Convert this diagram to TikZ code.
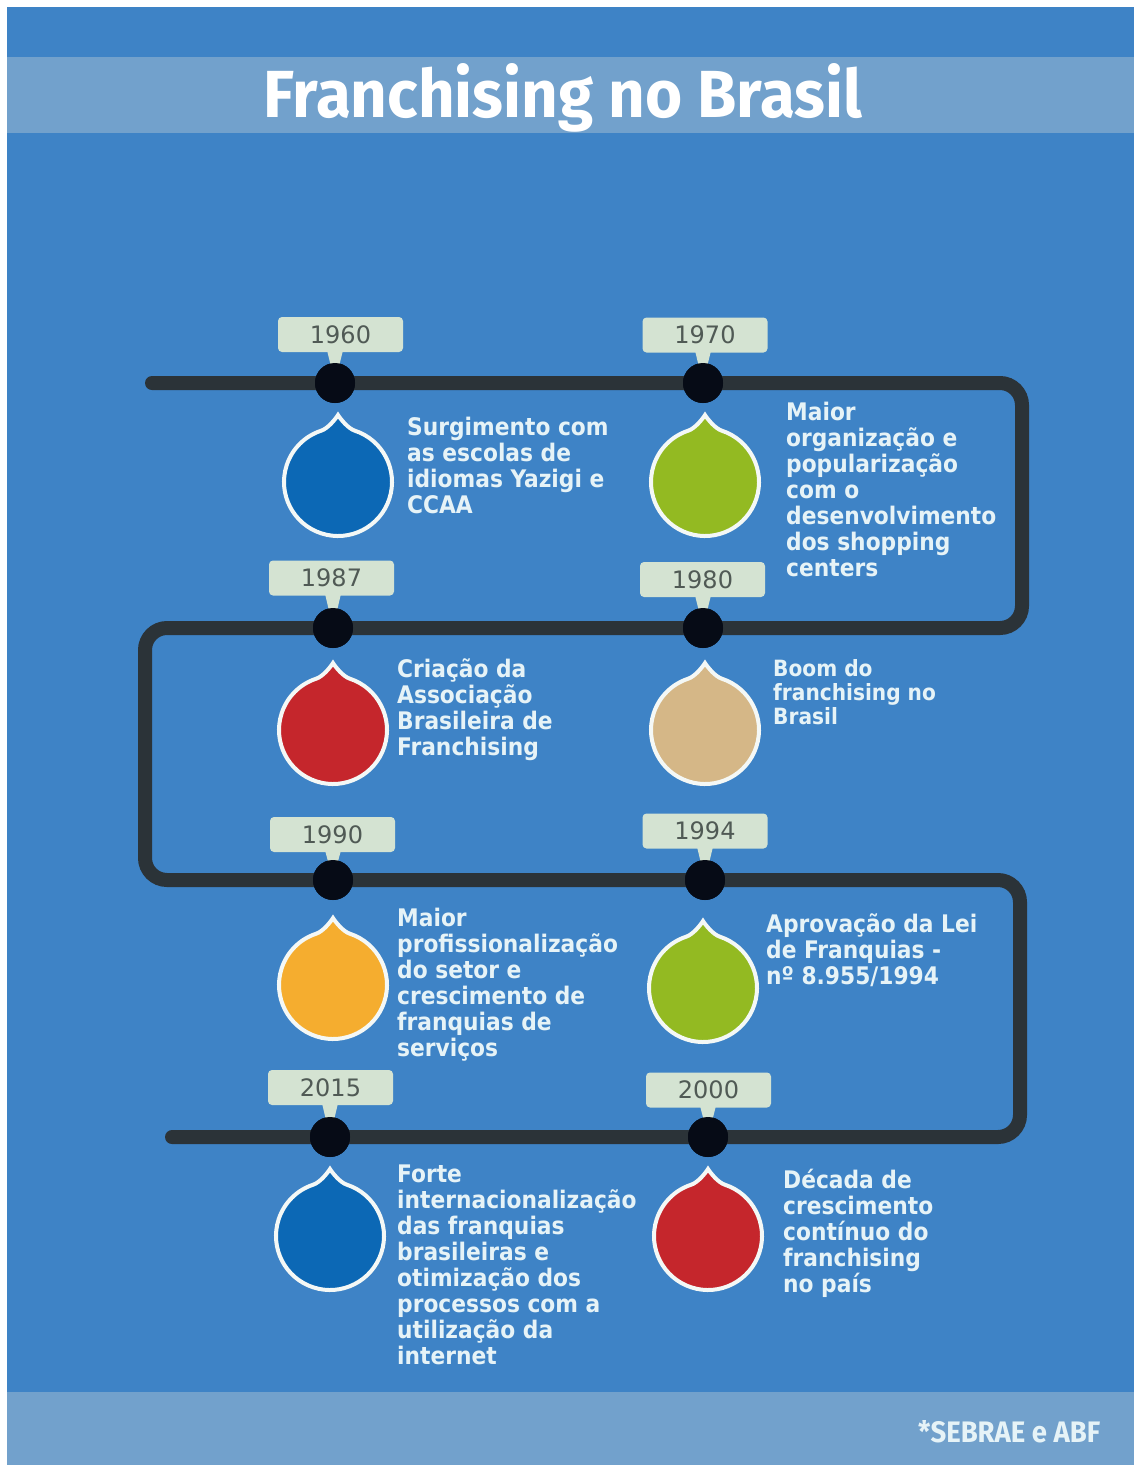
\documentclass[tikz,border=0pt]{standalone}
\usepackage{fontspec}
\setmainfont{DejaVu Sans}
\newfontfamily\bodyfont{DejaVu Sans Condensed}
\newfontfamily\tagfont{DejaVu Sans}
\newfontfamily\titlefont{Fira Sans}
\usetikzlibrary{calc}
\definecolor{bgblue}{HTML}{3E83C6}
\definecolor{bandblue}{HTML}{72A1CC}
\definecolor{linedark}{HTML}{2B3338}
\definecolor{dotblack}{HTML}{060B16}
\definecolor{tagfill}{HTML}{D4E3D2}
\definecolor{tagtext}{HTML}{505A55}
\definecolor{txtcol}{HTML}{E6F3F7}
\definecolor{dropblue}{HTML}{0C68B5}
\definecolor{dropgreen}{HTML}{93BA22}
\definecolor{dropred}{HTML}{C5262C}
\definecolor{droptan}{HTML}{D5B787}
\definecolor{droporange}{HTML}{F5AD2F}
\definecolor{dropedge}{HTML}{F4F8F6}
\newcommand\dropshape[2]{%
  \draw[dropline, fill=#2, shift={(#1.center)}, yscale=-1]
    (0,67) .. controls (2.5,63) and (10,53.6) .. (72:54)
    arc[start angle=72, end angle=-252, radius=54]
    .. controls (-10,53.6) and (-2.5,63) .. (0,67) -- cycle;}
\newcommand\tagpointer[2]{%
  \fill[tagfill] (#1.south -| #2) ++(-8,-2) -- ++(16,0) -- (#2.center) -- cycle;}
\begin{document}
\begin{tikzpicture}[x=1pt, y=-1pt,
  timeline/.style={draw=linedark, line width=14pt, line cap=round, rounded corners=22pt},
  dotnode/.style={circle, fill=dotblack, minimum size=40pt, inner sep=0pt},
  tagbox/.style={fill=tagfill, rounded corners=4pt, minimum width=125pt, minimum height=35pt,
    inner sep=0pt, text=tagtext, font=\tagfont\fontsize{24}{24}\selectfont},
  dropnode/.style={circle, minimum size=112pt, inner sep=0pt},
  dropline/.style={draw=dropedge, line width=4pt, line join=miter},
  evtxt/.style={anchor=base west, inner sep=0pt, text=txtcol,
    font=\bodyfont\bfseries\fontsize{24.2pt}{26pt}\selectfont},
  evtxtsmall/.style={evtxt, font=\bodyfont\bfseries\fontsize{22.4pt}{24pt}\selectfont}]
% canvas
\useasboundingbox (0,0) rectangle (1134,1465);
\fill[white] (0,0) rectangle (1134,1465);
\fill[bgblue] (7,7) rectangle (1134,1465);
\fill[bandblue] (7,57) rectangle (1134,133);
\fill[bandblue] (7,1392) rectangle (1134,1465);
\node[anchor=base, inner sep=0pt, text=white] (title) at (563,117)
  {\resizebox{598pt}{54pt}{\titlefont\bfseries Franchising no Brasil}};
\node[anchor=base west, inner sep=0pt, text=txtcol] (source) at (918,1442)
  {\resizebox{182pt}{22pt}{\titlefont\bfseries *SEBRAE e ABF}};
% timeline positions
\coordinate (start) at (152,383);
\coordinate (p1960) at (335,383);
\coordinate (p1970) at (703,383);
\coordinate (c1) at (1022,383);
\coordinate (c2) at (1022,628);
\coordinate (p1980) at (703,628);
\coordinate (p1987) at (333,628);
\coordinate (c3) at (145,628);
\coordinate (c4) at (145,880);
\coordinate (p1990) at (333,880);
\coordinate (p1994) at (705,880);
\coordinate (c5) at (1020,880);
\coordinate (c6) at (1020,1137);
\coordinate (p2000) at (708,1137);
\coordinate (p2015) at (330,1137);
\coordinate (finish) at (172,1137);
\draw[timeline] (start) -- (p1960) -- (p1970) -- (c1) -- (c2) -- (p1980) -- (p1987) -- (c3)
  -- (c4) -- (p1990) -- (p1994) -- (c5) -- (c6) -- (p2000) -- (p2015) -- (finish);
% dots
\foreach \y in {1960,1970,1980,1987,1990,1994,2000,2015}
  \node[dotnode] (dot\y) at (p\y) {};
% tags
\node[tagbox] (tag1960) at (340.5,334.5) {1960};
\node[tagbox] (tag1970) at (705,335) {1970};
\node[tagbox] (tag1987) at (331.5,578) {1987};
\node[tagbox] (tag1980) at (702.5,579.5) {1980};
\node[tagbox] (tag1990) at (332.5,834.5) {1990};
\node[tagbox] (tag1994) at (705,831) {1994};
\node[tagbox] (tag2015) at (330.5,1087.5) {2015};
\node[tagbox] (tag2000) at (708.5,1090) {2000};
\foreach \y in {1960,1970,1980,1987,1990,1994,2000,2015}
  \tagpointer{tag\y}{dot\y};
\foreach \y in {1960,1970,1980,1987,1990,1994,2000,2015}
  \node[dotnode] at (p\y) {};
% drops
\node[dropnode] (drop1960) at (338,482) {};
\node[dropnode] (drop1970) at (705,482) {};
\node[dropnode] (drop1987) at (333,730) {};
\node[dropnode] (drop1980) at (705,730) {};
\node[dropnode] (drop1990) at (333,985) {};
\node[dropnode] (drop1994) at (703,988) {};
\node[dropnode] (drop2015) at (330,1236) {};
\node[dropnode] (drop2000) at (708,1236) {};
\dropshape{drop1960}{dropblue}
\dropshape{drop1970}{dropgreen}
\dropshape{drop1987}{dropred}
\dropshape{drop1980}{droptan}
\dropshape{drop1990}{droporange}
\dropshape{drop1994}{dropgreen}
\dropshape{drop2015}{dropblue}
\dropshape{drop2000}{dropred}
% texts
\node[evtxt] (txt1960) at (407,435) {\parbox[t]{300pt}{\raggedright Surgimento com\\as escolas de\\idiomas Yazigi e\\CCAA}};
\node[evtxt] (txt1970) at (786,420) {\parbox[t]{300pt}{\raggedright Maior\\organização e\\popularização\\com o\\desenvolvimento\\dos shopping\\centers}};
\node[evtxt] (txt1987) at (397,677) {\parbox[t]{300pt}{\raggedright Criação da\\Associação\\Brasileira de\\Franchising}};
\node[evtxtsmall] (txt1980) at (773,676) {\parbox[t]{300pt}{\raggedright Boom do\\franchising no\\Brasil}};
\node[evtxt] (txt1990) at (397,926) {\parbox[t]{300pt}{\raggedright Maior\\profissionalização\\do setor e\\crescimento de\\franquias de\\serviços}};
\node[evtxt] (txt1994) at (766,932) {\parbox[t]{300pt}{\raggedright Aprovação da Lei\\de Franquias -\\nº 8.955/1994}};
\node[evtxt] (txt2015) at (397,1182) {\parbox[t]{300pt}{\raggedright Forte\\internacionalização\\das franquias\\brasileiras e\\otimização dos\\processos com a\\utilização da\\internet}};
\node[evtxt] (txt2000) at (783,1188) {\parbox[t]{300pt}{\raggedright Década de\\crescimento\\contínuo do\\franchising\\no país}};
\end{tikzpicture}
\end{document}
